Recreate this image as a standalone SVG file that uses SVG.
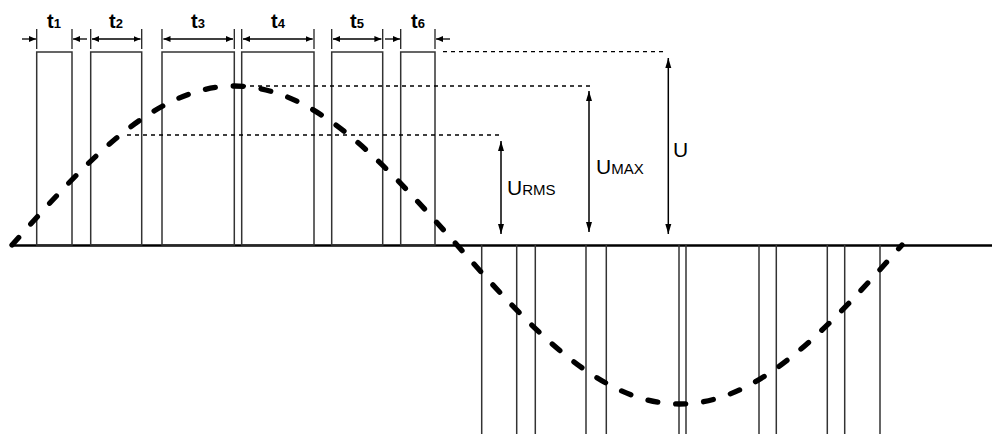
<svg xmlns="http://www.w3.org/2000/svg" width="992" height="434" viewBox="0 0 992 434">
<style>
.pulse{fill:none;stroke:#333;stroke-width:1.5}
.edge{stroke:#333;stroke-width:1.5}
.tick{stroke:#222;stroke-width:1.3}
.harrow{stroke:#000;stroke-width:1.3;marker-end:url(#ah)}
.darrow{stroke:#000;stroke-width:1.3;marker-start:url(#ah);marker-end:url(#ah)}
.vdarrow{stroke:#000;stroke-width:1.5;marker-start:url(#av);marker-end:url(#av)}
.level{stroke:#000;stroke-width:1.3;stroke-dasharray:4 4;fill:none}
.axis{stroke:#000;stroke-width:2.5}
.wave{fill:none;stroke:#000;stroke-width:5.3;stroke-linecap:round;stroke-dasharray:10 18}
.tl{font-family:"Liberation Sans",Arial,sans-serif;font-weight:bold;font-size:20px;fill:#000}
.ul{font-family:"Liberation Sans",Arial,sans-serif;font-size:21px;fill:#000}
</style>
<defs>
<marker id="ah" markerUnits="userSpaceOnUse" markerWidth="8" markerHeight="8" refX="7" refY="4" orient="auto-start-reverse" viewBox="0 0 8 8">
<path d="M0,1 L7,4 L0,7 Z" fill="#000"/>
</marker>
<marker id="av" markerUnits="userSpaceOnUse" markerWidth="10" markerHeight="10" refX="10" refY="4" orient="auto-start-reverse" viewBox="0 0 10 8">
<path d="M0,1 L10,4 L0,7 Z" fill="#000"/>
</marker>
</defs>

<g id="axis">
<line class="axis" x1="11" y1="245.5" x2="992" y2="245.5"/>
</g>

<g id="top-pulses">
<rect class="pulse" x="36.7" y="52" width="35.3" height="193"/>
<rect class="pulse" x="90.7" y="52" width="51" height="193"/>
<rect class="pulse" x="162" y="52" width="72.3" height="193"/>
<rect class="pulse" x="241.7" y="52" width="72.3" height="193"/>
<rect class="pulse" x="331.7" y="52" width="51" height="193"/>
<rect class="pulse" x="400.7" y="52" width="34.3" height="193"/>
</g>

<g id="bottom-pulses">
<line class="edge" x1="481.7" y1="245" x2="481.7" y2="434"/>
<line class="edge" x1="516.7" y1="245" x2="516.7" y2="434"/>
<line class="edge" x1="535.3" y1="245" x2="535.3" y2="434"/>
<line class="edge" x1="586" y1="245" x2="586" y2="434"/>
<line class="edge" x1="606.3" y1="245" x2="606.3" y2="434"/>
<line class="edge" x1="679" y1="245" x2="679" y2="434"/>
<line class="edge" x1="686" y1="245" x2="686" y2="434"/>
<line class="edge" x1="759" y1="245" x2="759" y2="434"/>
<line class="edge" x1="776.3" y1="245" x2="776.3" y2="434"/>
<line class="edge" x1="827.3" y1="245" x2="827.3" y2="434"/>
<line class="edge" x1="844.7" y1="245" x2="844.7" y2="434"/>
<line class="edge" x1="880" y1="245" x2="880" y2="434"/>
</g>

<g id="levels">
<line class="level" x1="443" y1="51.7" x2="667" y2="51.7"/>
<line class="level" x1="234" y1="86" x2="592" y2="86"/>
<line class="level" x1="127" y1="135" x2="502" y2="135"/>
</g>

<g id="wave">
<path class="wave" d="M12,245 C84.57,163.55 153.98,86 234.5,86 C315.02,86 384.43,163.55 457,245 C529.57,326.45 598.98,404 679.5,404 C760.02,404 829.43,326.45 902,245"/>
</g>

<g id="width-ticks">
<line class="tick" x1="36.7" y1="29" x2="36.7" y2="49"/>
<line class="tick" x1="72" y1="29" x2="72" y2="49"/>
<line class="tick" x1="90.7" y1="29" x2="90.7" y2="49"/>
<line class="tick" x1="141.7" y1="29" x2="141.7" y2="49"/>
<line class="tick" x1="162" y1="29" x2="162" y2="49"/>
<line class="tick" x1="234.3" y1="29" x2="234.3" y2="49"/>
<line class="tick" x1="241.7" y1="29" x2="241.7" y2="49"/>
<line class="tick" x1="314" y1="29" x2="314" y2="49"/>
<line class="tick" x1="331.7" y1="29" x2="331.7" y2="49"/>
<line class="tick" x1="382.7" y1="29" x2="382.7" y2="49"/>
<line class="tick" x1="400.7" y1="29" x2="400.7" y2="49"/>
<line class="tick" x1="435" y1="29" x2="435" y2="49"/>
</g>

<g id="connectors">
<line class="harrow" x1="22" y1="39" x2="36" y2="39"/>
<line class="harrow" x1="87" y1="39" x2="73" y2="39"/>
<line class="darrow" x1="92" y1="39" x2="140.5" y2="39"/>
<line class="darrow" x1="163.5" y1="39" x2="233" y2="39"/>
<line class="darrow" x1="243" y1="39" x2="312.7" y2="39"/>
<line class="darrow" x1="333" y1="39" x2="381.4" y2="39"/>
<line class="harrow" x1="385" y1="39" x2="400" y2="39"/>
<line class="harrow" x1="450" y1="39" x2="436" y2="39"/>
<line class="vdarrow" x1="501" y1="141" x2="501" y2="234"/>
<line class="vdarrow" x1="589" y1="91" x2="589" y2="232"/>
<line class="vdarrow" x1="668.3" y1="58" x2="668.3" y2="234"/>
</g>

<g id="labels">
<text class="tl" x="54" y="28" text-anchor="middle">t<tspan font-size="13">1</tspan></text>
<text class="tl" x="116" y="28" text-anchor="middle">t<tspan font-size="13">2</tspan></text>
<text class="tl" x="198" y="28" text-anchor="middle">t<tspan font-size="13">3</tspan></text>
<text class="tl" x="278" y="28" text-anchor="middle">t<tspan font-size="13">4</tspan></text>
<text class="tl" x="357" y="28" text-anchor="middle">t<tspan font-size="13">5</tspan></text>
<text class="tl" x="418" y="28" text-anchor="middle">t<tspan font-size="13">6</tspan></text>
<text class="ul" x="507" y="195">U<tspan font-size="15">RMS</tspan></text>
<text class="ul" x="596" y="174">U<tspan font-size="15">MAX</tspan></text>
<text class="ul" x="673" y="157">U</text>
</g>
</svg>
